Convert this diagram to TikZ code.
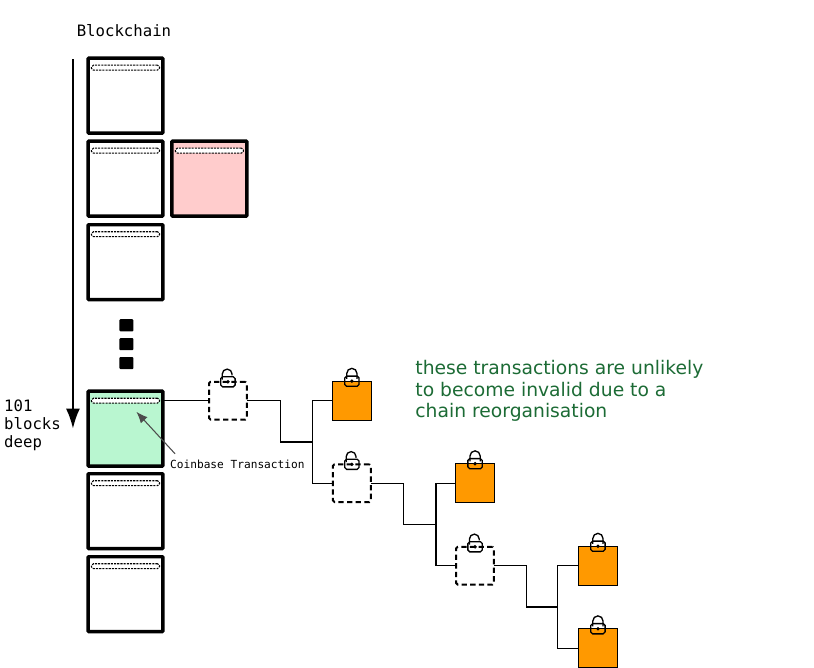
\documentclass[tikz,border=0pt]{standalone}
\usepackage{fontspec}
\setmainfont{DejaVu Sans}
\newfontfamily\chainmono{DejaVu Sans Mono}
\usetikzlibrary{calc,positioning,arrows.meta}
\definecolor{cf_orange}{HTML}{FF9900}
\definecolor{cf_green}{HTML}{B9F6D0}
\definecolor{cf_pink}{HTML}{FFCCCC}
\definecolor{cf_note}{HTML}{1C6B35}
\tikzset{
	cf_base/.style={on grid, inner sep=0pt, outer sep=0pt},
	cf_block/.style={cf_base, draw, rectangle, rounded corners=0.2mm, line width=2.6pt, fill=white, minimum size=19.8mm},
	cf_header/.style={cf_base, draw, rectangle, rounded corners=0.5mm, line width=0.8pt, dash pattern=on 1.6pt off 0.8pt, fill=white, minimum width=18mm, minimum height=1.3mm},
	cf_dot/.style={cf_base, fill=black, rounded corners=0.25mm, minimum width=3.7mm, minimum height=3.2mm},
	cf_pending/.style={cf_base, draw, rectangle, rounded corners=0.4mm, line width=1.5pt, dash pattern=on 4pt off 2.5pt, minimum size=10mm},
	cf_output/.style={cf_base, draw, rectangle, line width=0.75pt, fill=cf_orange, minimum size=10.3mm},
	cf_line/.style={draw=black, line width=1pt},
	cf_mono/.style={cf_base, align=left, font=\chainmono\fontsize{11.8}{13.5}\selectfont},
	cf_small/.style={cf_base, font=\chainmono\fontsize{8.4}{10}\selectfont},
	cf_text/.style={cf_base, align=left, text=cf_note, font=\fontsize{14.1}{16.5}\selectfont},
	cf_lockbody/.style={draw, line width=1pt, rounded corners=0.5mm},
	cf_shut/.pic={
		\draw [line width=1pt] (-1.35mm,0.6mm) -- (-1.35mm,2.05mm) arc (180:0:1.35mm) -- (1.35mm,0.6mm);
		\draw [cf_lockbody] (-1.9mm,-1.35mm) rectangle (1.9mm,1.35mm);
		\fill (0,0) circle (0.5mm);
	},
	cf_open/.pic={
		\draw [line width=1pt] (-1.5mm,0.6mm) -- (-1.5mm,2.05mm) arc (180:0:1.3mm) -- (1.1mm,1.7mm);
		\draw [cf_lockbody] (-1.9mm,-1.35mm) rectangle (1.9mm,1.35mm);
		\fill (0,0) circle (0.5mm);
	}
}
\begin{document}
\begin{tikzpicture}
	\useasboundingbox (0,0) rectangle (215.37mm,-176.48mm);

	% main chain
	\node [cf_block] at (33.2mm,-25.3mm) (bc_a) {};
	\node [cf_block, below = 21.96mm of bc_a] (bc_b) {};
	\node [cf_block, below = 22.1mm of bc_b] (bc_c) {};
	\node [cf_block, fill=cf_green, below = 44.05mm of bc_c] (bc_d) {};
	\node [cf_block, below = 21.83mm of bc_d] (bc_e) {};
	\node [cf_block, below = 21.96mm of bc_e] (bc_f) {};
	\node [cf_block, fill=cf_pink, right = 22.2mm of bc_b] (bc_orphan) {};

	\node [cf_header, above = 7.4mm of bc_a] (hd_a) {};
	\node [cf_header, above = 7.4mm of bc_b] (hd_b) {};
	\node [cf_header, above = 7.4mm of bc_c] (hd_c) {};
	\node [cf_header, above = 7.4mm of bc_d] (hd_d) {};
	\node [cf_header, above = 7.4mm of bc_e] (hd_e) {};
	\node [cf_header, above = 7.4mm of bc_f] (hd_f) {};
	\node [cf_header, above = 7.4mm of bc_orphan] (hd_orphan) {};

	\node [cf_dot, below right = 16.7mm and 0.25mm of bc_c] (dot_a) {};
	\node [cf_dot, below = 5mm of dot_a] (dot_b) {};
	\node [cf_dot, below = 5mm of dot_b] (dot_c) {};

	\node [cf_mono, above left = 17.1mm and 0.4mm of bc_a] (chain_title) {Blockchain};
	\node [cf_mono, above left = 0.9mm and 24.6mm of bc_d] (depth_label) {101\\blocks\\deep};

	\coordinate [on grid, above left = 9.66mm and 13.9mm of bc_a] (depth_top);
	\coordinate [on grid, left = 13.9mm of bc_d] (depth_end);
	\draw [line width=1.5pt, -{Latex[length=5.3mm,width=3.7mm]}] (depth_top) -- (depth_end);

	% transaction tree
	\node [cf_pending, above right = 7.4mm and 27.1mm of bc_d] (tx_a) {};
	\node [cf_output, right = 32.8mm of tx_a] (out_a) {};
	\node [cf_pending, below right = 21.83mm and 32.8mm of tx_a] (tx_b) {};
	\node [cf_output, right = 32.6mm of tx_b] (out_b) {};
	\node [cf_pending, below right = 21.83mm and 32.6mm of tx_b] (tx_c) {};
	\node [cf_output, right = 32.5mm of tx_c] (out_c) {};
	\node [cf_output, below right = 21.83mm and 32.5mm of tx_c] (out_d) {};

	\coordinate [on grid, left = 5.3mm of $(out_a.west)!.5!(tx_b.west)$] (fork_a);
	\coordinate [on grid, left = 8.5mm of fork_a] (bend_a);
	\coordinate [on grid, left = 5.3mm of $(out_b.west)!.5!(tx_c.west)$] (fork_b);
	\coordinate [on grid, left = 8.5mm of fork_b] (bend_b);
	\coordinate [on grid, left = 5.5mm of $(out_c.west)!.5!(out_d.west)$] (fork_c);
	\coordinate [on grid, left = 8.2mm of fork_c] (bend_c);

	\path [cf_line] (bc_d.east |- tx_a.west) -- (tx_a.west);
	\path [cf_line] (tx_a.east) -| (bend_a) -- (fork_a);
	\path [cf_line] (out_a.west) -| (fork_a) |- (tx_b.west);
	\path [cf_line] (tx_b.east) -| (bend_b) -- (fork_b);
	\path [cf_line] (out_b.west) -| (fork_b) |- (tx_c.west);
	\path [cf_line] (tx_c.east) -| (bend_c) -- (fork_c);
	\path [cf_line] (out_c.west) -| (fork_c) |- (out_d.west);

	\pic at (tx_a.north) {cf_open};
	\pic at (tx_b.north) {cf_open};
	\pic at (tx_c.north) {cf_open};
	\pic at (out_a.north) {cf_shut};
	\pic at (out_b.north) {cf_shut};
	\pic at (out_c.north) {cf_shut};
	\pic at (out_d.north) {cf_shut};

	% labels
	\node [cf_small, below right = 9.4mm and 29.6mm of bc_d] (coinbase_label) {Coinbase Transaction};
	\coordinate [on grid, above right = 1.6mm and 1.3mm of coinbase_label.north west] (coinbase_tail);
	\coordinate [on grid, below right = 2.3mm and 2.9mm of hd_d.south] (coinbase_tip);
	\draw [draw=black!70, line width=0.8pt, -{Latex[length=3mm,width=2.4mm]}] (coinbase_tail) -- (coinbase_tip);

	\node [cf_text, above right = 2.6mm and 87.7mm of tx_a] (tree_note) {these transactions are unlikely\\to become invalid due to a\\chain reorganisation};
\end{tikzpicture}
\end{document}
